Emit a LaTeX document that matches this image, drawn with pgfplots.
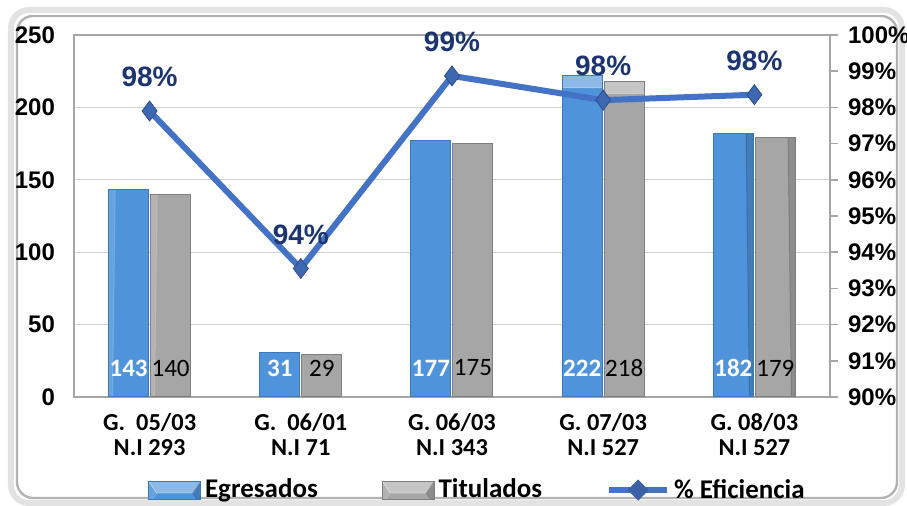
\documentclass[border=0pt]{standalone}
\usepackage{fontspec}
\setmainfont{Carlito}
\newfontfamily\arialfont{Liberation Sans}
\usepackage{pgfplots}
\pgfplotsset{compat=1.18}

\definecolor{egr}{HTML}{4F94DA}
\definecolor{egrdark}{HTML}{3A78BC}
\definecolor{tit}{HTML}{A6A6A6}
\definecolor{titdark}{HTML}{7F7F7F}
\definecolor{efic}{HTML}{4472C4}
\definecolor{navy}{HTML}{1C3570}

\tikzset{bevel/.style={path picture={
    \fill[path picture={}, white, opacity=0.35] (path picture bounding box.north west) -- (path picture bounding box.north east)
        -- ([xshift=-4pt,yshift=-6pt]path picture bounding box.north east) -- ([xshift=4pt,yshift=-6pt]path picture bounding box.north west) -- cycle;
    \fill[path picture={}, white, opacity=0.15] (path picture bounding box.north west) -- ([xshift=4pt,yshift=-6pt]path picture bounding box.north west)
        -- ([xshift=2pt]path picture bounding box.south west) -- (path picture bounding box.south west) -- cycle;
    \fill[path picture={}, black, opacity=0.15] (path picture bounding box.north east) -- ([xshift=-4pt,yshift=-6pt]path picture bounding box.north east)
        -- ([xshift=-2pt]path picture bounding box.south east) -- (path picture bounding box.south east) -- cycle;
}}}

\begin{document}
\begin{tikzpicture}
\useasboundingbox (-37pt,-54.5pt) rectangle (416.5pt,198.5pt);
% frame
\draw[gray!22, line width=3pt, rounded corners=9pt] (-31.5pt,-53pt) rectangle (414pt,193.5pt);
\draw[gray!60, line width=1.2pt, rounded corners=8pt] (-28.5pt,-50.5pt) rectangle (411.5pt,190.5pt);

\begin{axis}[
    scale only axis, width=378pt, height=181pt,
    /pgf/number format/assume math mode=true,
    ybar=1pt, bar width=20pt,
    xmin=-0.5, xmax=4.5, ymin=0, ymax=250,
    xtick={0,1,2,3,4},
    xticklabels={{G.\ \ 05/03\\N.I 293},{G.\ \ 06/01\\N.I 71},{G. 06/03\\N.I 343},{G. 07/03\\N.I 527},{G. 08/03\\N.I 527}},
    xticklabel style={align=center, yshift=-0.5pt, font=\bfseries\fontsize{12.2}{12.5}\selectfont},
    ytick={0,50,100,150,200,250},
    yticklabels={0,50,100,150,200,250},
    yticklabel style={xshift=-6pt, font=\arialfont\bfseries\fontsize{12}{14}\selectfont},
    ymajorgrids, grid style={gray!35, line width=0.6pt},
    axis line style={gray!70, line width=0.8pt},
    tick style={draw=none},
]
\addplot[fill=egr, draw=egrdark, line width=0.5pt, bevel,
    nodes near coords, visualization depends on=y \as \rawy,
    every node near coord/.append style={anchor=center,
        shift={(axis direction cs:0,20-\rawy)}, text=white,
        font=\bfseries\fontsize{12.5}{12.5}\selectfont}]
    coordinates {(0,143) (1,31) (2,177) (3,222) (4,182)};
\addplot[fill=tit, draw=titdark, line width=0.5pt, bevel,
    nodes near coords, visualization depends on=y \as \rawy,
    every node near coord/.append style={anchor=center,
        shift={(axis direction cs:0,20-\rawy)}, text=black,
        font=\fontsize{12.5}{12.5}\selectfont}]
    coordinates {(0,140) (1,29) (2,175) (3,218) (4,179)};
\end{axis}

\begin{axis}[
    scale only axis, width=378pt, height=181pt,
    xmin=-0.5, xmax=4.5, ymin=90, ymax=100,
    xtick=\empty,
    ytick={90,91,...,100},
    yticklabels={90\%,91\%,92\%,93\%,94\%,95\%,96\%,97\%,98\%,99\%,100\%},
    ytick pos=right, yticklabel pos=right,
    tick align=outside, major tick length=4pt,
    ytick style={gray!70, line width=0.8pt},
    yticklabel style={xshift=1.5pt, font=\arialfont\bfseries\fontsize{12}{14}\selectfont},
    axis line style={draw=none},
    legend columns=3,
    legend style={at={(0.535,-0.257)}, anchor=center, draw=none, fill=none,
        font=\bfseries\fontsize{13.5}{13.5}\selectfont,
        /tikz/every even column/.append style={column sep=30pt}},
]
\addlegendimage{legend image code/.code={\draw[fill=egr, draw=egrdark, bevel] (0pt,-4.5pt) rectangle (26pt,4.5pt);}}
\addlegendentry{Egresados}
\addlegendimage{legend image code/.code={\draw[fill=tit, draw=titdark, bevel] (0pt,-4.5pt) rectangle (26pt,4.5pt);}}
\addlegendentry{Titulados}
\addlegendimage{legend image code/.code={\draw[efic, line width=3pt] (0pt,0pt) -- (29pt,0pt);
    \fill[efic!85!black] (14.5pt,0pt) +(0,5pt) -- +(5pt,0) -- +(0,-5pt) -- +(-5pt,0) -- cycle;}}
\addlegendentry{\% Eficiencia}
\addplot[forget plot, efic, line width=3pt, mark=diamond*, mark size=5pt,
    mark options={fill=efic!90!black, draw=efic!70!black, line width=0.4pt},
    nodes near coords={\pgfplotspointmeta\%}, point meta=explicit symbolic,
    every node near coord/.append style={anchor=center, yshift=17pt, text=navy,
        font=\arialfont\bfseries\fontsize{14}{14}\selectfont}]
    table[meta=lab] {
x y lab
0 97.9 98
1 93.55 94
2 98.87 99
3 98.2 98
4 98.35 98
};
\end{axis}
\end{tikzpicture}
\end{document}
